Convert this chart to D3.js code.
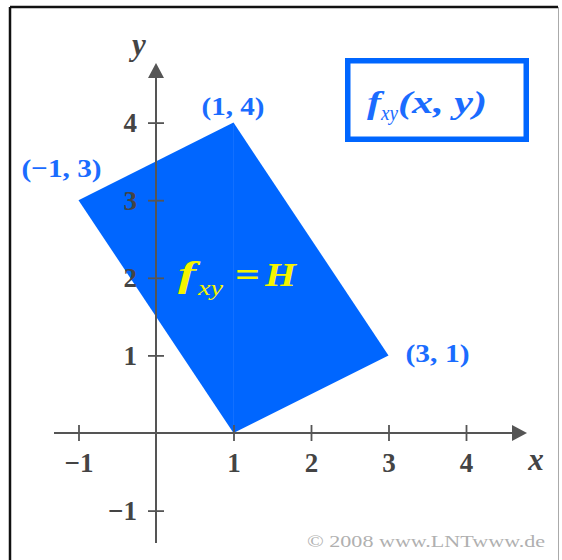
<!DOCTYPE html>
<html>
<head>
<meta charset="utf-8">
<script src="https://cdn.jsdelivr.net/npm/d3@7"></script>
<style>
  html, body { margin: 0; padding: 0; background: #fff; }
  svg { display: block; }
  text { font-family: "Liberation Serif", "Times New Roman", serif; }
</style>
</head>
<body>
<svg id="chart" width="562" height="560"></svg>
<script>
// Uniform density region: corners of the rectangle in the (x, y) plane
const regionX = [-1, 1, 3, 1];
const regionY = [3, 4, 1, 0];

// Corner annotations
const cornerX = [-1, 1, 3];
const cornerY = [3, 4, 1];
const cornerText = ["(−1, 3)", "(1, 4)", "(3, 1)"];

// Axis ticks
const xTicks = [-1, 1, 2, 3, 4];
const yTicks = [-1, 1, 2, 3, 4];

const axisColor = "#555";
const blue = "#0066ff";
const labelBlue = "#1a6cff";

const svg = d3.select("#chart");

const x = d3.scaleLinear().domain([-1, 4]).range([78.5, 466]);
const y = d3.scaleLinear().domain([-1, 4]).range([510.6, 122.6]);

// Frame
svg.append("line").attr("x1", 10).attr("y1", 7).attr("x2", 558).attr("y2", 7)
  .attr("stroke", "#111").attr("stroke-width", 2.5);
svg.append("line").attr("x1", 10).attr("y1", 7).attr("x2", 10).attr("y2", 560)
  .attr("stroke", "#111").attr("stroke-width", 2.5);
svg.append("line").attr("x1", 558.5).attr("y1", 7).attr("x2", 558.5).attr("y2", 560)
  .attr("stroke", "#aaa").attr("stroke-width", 1);

// Region
const pts = regionX.map((v, i) => [x(v), y(regionY[i])]);
svg.append("path")
  .attr("d", d3.line()(pts) + "Z")
  .attr("fill", blue);

// faint seam inside the region along x = 1
svg.append("line")
  .attr("x1", x(1)).attr("x2", x(1)).attr("y1", y(4) + 2).attr("y2", y(0) - 2)
  .attr("stroke", "#ffffff").attr("stroke-opacity", 0.07).attr("stroke-width", 1);

const fmt = d => d < 0 ? "−" + Math.abs(d) : d;

// Axes
const gx = svg.append("g").attr("transform", `translate(0,${y(0)})`)
  .call(d3.axisBottom(x).tickValues(xTicks).tickSize(8).tickFormat(fmt));
gx.select(".domain").remove();
gx.selectAll(".tick line").attr("y1", -8).attr("y2", 8)
  .attr("stroke", axisColor).attr("stroke-width", 1.8);
gx.selectAll(".tick text")
  .attr("y", 39).attr("dy", 0)
  .attr("fill", "#444").attr("font-size", 27).attr("font-weight", "bold")
  .attr("font-family", "'Liberation Serif', serif");

const gy = svg.append("g").attr("transform", `translate(${x(0)},0)`)
  .call(d3.axisLeft(y).tickValues(yTicks).tickSize(8).tickFormat(fmt));
gy.select(".domain").remove();
gy.selectAll(".tick line").attr("x1", -8).attr("x2", 8)
  .attr("stroke", axisColor).attr("stroke-width", 1.8);
gy.selectAll(".tick text")
  .attr("x", -19).attr("dy", "0.34em")
  .attr("fill", "#444").attr("font-size", 27).attr("font-weight", "bold")
  .attr("font-family", "'Liberation Serif', serif");

// Axis lines with arrow heads
svg.append("line").attr("x1", 54).attr("x2", 514).attr("y1", y(0)).attr("y2", y(0))
  .attr("stroke", axisColor).attr("stroke-width", 2);
svg.append("path")
  .attr("d", `M527,${y(0)} L512,${y(0) - 8} L512,${y(0) + 8} Z`)
  .attr("fill", axisColor);
svg.append("line").attr("x1", x(0)).attr("x2", x(0)).attr("y1", 543).attr("y2", 76)
  .attr("stroke", axisColor).attr("stroke-width", 2);
svg.append("path")
  .attr("d", `M${x(0)},63 L${x(0) - 8},78 L${x(0) + 8},78 Z`)
  .attr("fill", axisColor);

// Axis names
svg.append("text").attr("x", 536).attr("y", 470).attr("text-anchor", "middle")
  .attr("font-size", 31).attr("font-style", "italic").attr("font-weight", "bold")
  .attr("fill", "#444").text("x");
svg.append("text").attr("x", 139).attr("y", 55).attr("text-anchor", "middle")
  .attr("font-size", 31).attr("font-style", "italic").attr("font-weight", "bold")
  .attr("fill", "#444").text("y");

// Corner labels
const cornerStyle = [
  { dx: -57, dy: -23, len: 80 },
  { dx: -32, dy: -8, len: 63 },
  { dx: 17, dy: 7, len: 64 }
];
cornerText.forEach((t, i) => {
  const s = cornerStyle[i];
  svg.append("text")
    .attr("x", x(cornerX[i]) + s.dx).attr("y", y(cornerY[i]) + s.dy)
    .attr("font-size", 26).attr("font-weight", "bold")
    .attr("textLength", s.len).attr("lengthAdjust", "spacingAndGlyphs")
    .attr("fill", labelBlue).attr("xml:space", "preserve")
    .text(t);
});

// Density value inside the region
const yellow = "#f4f400";
const vy = 286;
svg.append("text").attr("x", 178).attr("y", vy).attr("fill", yellow)
  .attr("font-size", 35).attr("font-weight", "bold").attr("font-style", "italic")
  .attr("textLength", 18).attr("lengthAdjust", "spacingAndGlyphs").text("f");
svg.append("text").attr("x", 198).attr("y", vy + 9).attr("fill", yellow)
  .attr("font-size", 21).attr("font-style", "italic")
  .attr("textLength", 25).attr("lengthAdjust", "spacingAndGlyphs").text("xy");
svg.append("text").attr("x", 235).attr("y", vy).attr("fill", yellow)
  .attr("font-size", 34).attr("font-weight", "bold")
  .attr("textLength", 25).attr("lengthAdjust", "spacingAndGlyphs").text("=");
svg.append("text").attr("x", 265).attr("y", vy).attr("fill", yellow)
  .attr("font-size", 34).attr("font-weight", "bold").attr("font-style", "italic")
  .attr("textLength", 31).attr("lengthAdjust", "spacingAndGlyphs").text("H");

// Title box
svg.append("rect").attr("x", 347.75).attr("y", 60.75).attr("width", 178.5).attr("height", 78.5)
  .attr("fill", "none").attr("stroke", blue).attr("stroke-width", 5.5);
svg.append("text").attr("x", 367).attr("y", 113).attr("fill", labelBlue)
  .attr("font-size", 31).attr("font-weight", "bold").attr("font-style", "italic")
  .attr("textLength", 14).attr("lengthAdjust", "spacingAndGlyphs").text("f");
svg.append("text").attr("x", 381).attr("y", 120).attr("fill", labelBlue)
  .attr("font-size", 20).attr("font-style", "italic")
  .attr("textLength", 17).attr("lengthAdjust", "spacingAndGlyphs").text("xy");
svg.append("text").attr("x", 398).attr("y", 113).attr("fill", labelBlue)
  .attr("font-size", 31).attr("font-weight", "bold").attr("font-style", "italic")
  .attr("textLength", 89).attr("lengthAdjust", "spacingAndGlyphs").attr("xml:space", "preserve")
  .text("(x, y)");

// Copyright
svg.append("text").attr("x", 307).attr("y", 547)
  .attr("fill", "#b0b0b0").attr("font-size", 17)
  .attr("textLength", 238).attr("lengthAdjust", "spacingAndGlyphs")
  .text("© 2008 www.LNTwww.de");
</script>
</body>
</html>
